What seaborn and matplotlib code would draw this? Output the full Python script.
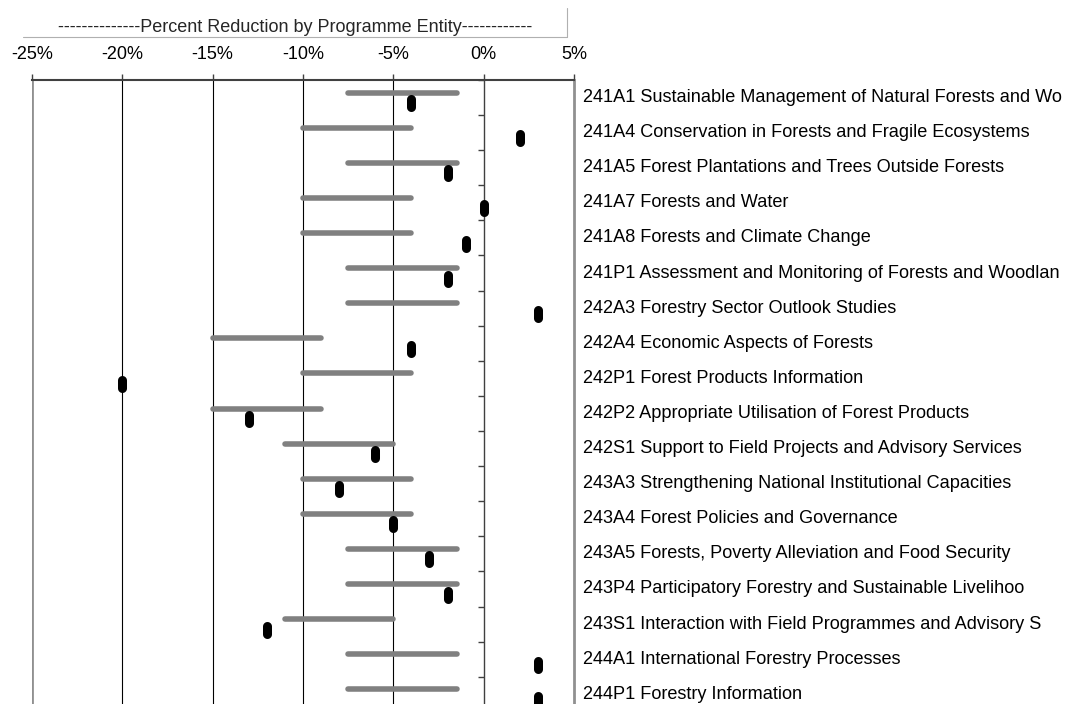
import numpy as np
import pandas as pd
import matplotlib
matplotlib.use("Agg")
import matplotlib.pyplot as plt
from matplotlib.path import Path
from matplotlib.lines import Line2D
from matplotlib.transforms import blended_transform_factory
import seaborn as sns

# Data
entities = [
    "241A1 Sustainable Management of Natural Forests and Wo",
    "241A4 Conservation in Forests and Fragile Ecosystems",
    "241A5 Forest Plantations and Trees Outside Forests",
    "241A7 Forests and Water",
    "241A8 Forests and Climate Change",
    "241P1 Assessment and Monitoring of Forests and Woodlan",
    "242A3 Forestry Sector Outlook Studies",
    "242A4 Economic Aspects of Forests",
    "242P1 Forest Products Information",
    "242P2 Appropriate Utilisation of Forest Products",
    "242S1 Support to Field Projects and Advisory Services",
    "243A3 Strengthening National Institutional Capacities",
    "243A4 Forest Policies and Governance",
    "243A5 Forests, Poverty Alleviation and Food Security",
    "243P4 Participatory Forestry and Sustainable Livelihoo",
    "243S1 Interaction with Field Programmes and Advisory S",
    "244A1 International Forestry Processes",
    "244P1 Forestry Information",
]
reduction = [-4, 2, -2, 0, -1, -2, 3, -4, -20, -13, -6, -8, -5, -3, -2, -12, 3, 3]
range_low = [-7.5, -10, -7.5, -10, -10, -7.5, -7.5, -15, -10, -15, -11, -10, -10, -7.5, -7.5, -11, -7.5, -7.5]
range_high = [-1.5, -4, -1.5, -4, -4, -1.5, -1.5, -9, -4, -9, -5, -4, -4, -1.5, -1.5, -5, -1.5, -1.5]
x_ticks = [-25, -20, -15, -10, -5, 0, 5]
title_text = "--------------Percent Reduction by Programme Entity------------"

sns.set_theme(style="white")
plt.rcParams['font.family'] = ['Liberation Sans', 'DejaVu Sans']

W, H = 1068, 704
fig = plt.figure(figsize=(W / 100, H / 100), dpi=100)

# plot area in pixels; the bottom runs off the picture like in the screenshot
left, right, top = 32, 574, 80
row_h = 35.1
n = len(entities)
bottom = top + n * row_h
ax = fig.add_axes([left / W, 1 - bottom / H, (right - left) / W, (bottom - top) / H])

df = pd.DataFrame({"entity": entities, "reduction": reduction,
                   "low": range_low, "high": range_high})
df["row"] = np.arange(n)
df["marker_y"] = df["row"] + 0.16

# grey target ranges
ax.hlines(df["row"] - 0.14, df["low"], df["high"], color="#808080", lw=4,
          capstyle="round", zorder=3)

# black pill-shaped markers for the actual reduction
t = np.linspace(0, np.pi, 13)
r = 4.5
top_arc = np.column_stack([r * np.cos(t), 4 + r * np.sin(t)])
bot_arc = np.column_stack([-r * np.cos(t), -4 - r * np.sin(t)])
pill = Path(np.vstack([top_arc, bot_arc, top_arc[:1]]), closed=True)
sns.scatterplot(data=df, x="reduction", y="marker_y", marker=pill, s=150,
                color="black", linewidth=0, legend=False, ax=ax, zorder=4)

# gridlines and borders
for v in [-20, -15, -10, -5]:
    ax.axvline(v, color="black", lw=0.8, zorder=1)
ax.axvline(-25, color="#909090", lw=2, zorder=2)

ax.set_xlim(-25, 5)
ax.set_ylim(n - 0.5, -0.5)
ax.set_xlabel("")
ax.set_ylabel("")

# category axis sits on 0%
ax.spines['left'].set_position(('data', 0))
ax.spines['left'].set_color("#404040")
ax.spines['left'].set_linewidth(1)
ax.spines['right'].set_color("#909090")
ax.spines['right'].set_linewidth(2)
ax.spines['top'].set_color("#404040")
ax.spines['top'].set_linewidth(1.5)
ax.spines['bottom'].set_visible(False)
ax.set_yticks(np.arange(n + 1) - 0.5)
ax.set_yticklabels([])
ax.tick_params(axis="y", which="both", left=True, right=False, direction="out",
               length=4.5, width=1, color="#404040")

ax.xaxis.tick_top()
ax.set_xticks(x_ticks)
ax.set_xticklabels([f"{v}%" for v in x_ticks])
ax.tick_params(axis="x", top=True, bottom=False, direction="out", length=4,
               width=1, color="#404040", labelsize=13, pad=8.5, labelcolor="black")

# entity names to the right of the plot
tr = blended_transform_factory(ax.transAxes, ax.transData)
for i, name in enumerate(entities):
    ax.text(1 + (583 - right) / (right - left), i, name, transform=tr,
            ha="left", va="center", fontsize=13.1, color="black", clip_on=False)

# title cell
fig.text(295 / W, 1 - 27 / H, title_text, ha="center", va="center", fontsize=13)
fig.add_artist(Line2D([23 / W, 567 / W], [1 - 37 / H, 1 - 37 / H], color="#b0b0b0", lw=0.8))
fig.add_artist(Line2D([567 / W, 567 / W], [1 - 8 / H, 1 - 37 / H], color="#b0b0b0", lw=0.8))

fig.savefig("out.png", dpi=100)
